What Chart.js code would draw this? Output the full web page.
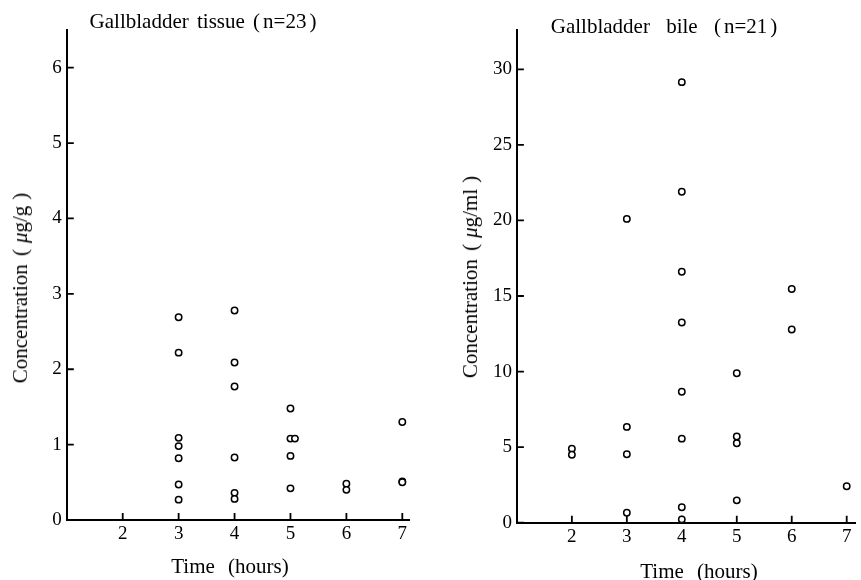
<!DOCTYPE html>
<html lang="en">
<head>
<meta charset="UTF-8">
<title>Gallbladder tissue and bile concentrations</title>
<script src="https://cdn.jsdelivr.net/npm/chart.js"></script>
<style>
  body { margin: 0; background: #fff; }
  #wrap { position: relative; width: 861px; height: 580px; overflow: hidden; }
  canvas { position: absolute; top: 0; }
  .lbl { position: absolute; font: 21px "Liberation Serif", serif; line-height: 24px; color: #000; white-space: pre; }
  .ptitle { transform: translateX(-50%); }
  .xtitle { word-spacing: 8px; transform: translateX(-50%); }
  .ytitle { word-spacing: 3px; transform: translate(-50%, -50%) rotate(-90deg); }
  .ytitle span { margin: 0 6px; }
  .ptitle span { margin: 0 3px; }
</style>
</head>
<body>
<div id="wrap">
  <canvas id="tissueChart" width="430" height="580" style="left:0"></canvas>
  <canvas id="bileChart" width="431" height="580" style="left:430px"></canvas>
  <div class="lbl ptitle" style="left:203px;top:9px;word-spacing:3px">Gallbladder tissue (<span>n=23</span>)</div>
  <div class="lbl ptitle" style="left:664px;top:14px;word-spacing:11px">Gallbladder bile (<span>n=21</span>)</div>
  <div class="lbl xtitle" style="left:230px;top:554px">Time (hours)</div>
  <div class="lbl xtitle" style="left:699px;top:559px">Time (hours)</div>
  <div class="lbl ytitle" style="left:20px;top:288px">Concentration (<span><i>μ</i>g/g</span>)</div>
  <div class="lbl ytitle" style="left:470px;top:277px">Concentration (<span><i>μ</i>g/ml</span>)</div>
</div>
<script>
// tissue, µg/g  (time in hours, one entry per patient)
const tissueTime = [3, 3, 3, 3, 3, 3, 3,
                    4, 4, 4, 4, 4, 4,
                    5, 5, 5.08, 5, 5,
                    6, 6,
                    7, 7, 7];
const tissueConc = [2.69, 2.22, 1.09, 0.98, 0.82, 0.47, 0.27,
                    2.78, 2.09, 1.77, 0.83, 0.36, 0.28,
                    1.48, 1.08, 1.08, 0.85, 0.42,
                    0.48, 0.40,
                    1.30, 0.51, 0.50];

// bile, µg/ml
const bileTime = [2, 2,
                  3, 3, 3, 3,
                  4, 4, 4, 4, 4, 4, 4, 4,
                  5, 5, 5, 5,
                  6, 6,
                  7];
const bileConc = [4.9, 4.5,
                  20.1, 6.34, 4.53, 0.66,
                  29.15, 21.9, 16.6, 13.25, 8.66, 5.56, 1.02, 0.22,
                  9.89, 5.70, 5.26, 1.48,
                  15.46, 12.78,
                  2.41];

Chart.defaults.font.family = '"Liberation Serif", serif';
Chart.defaults.color = '#000';

// short tick marks pointing into the plot
const innerTicks = {
    id: 'innerTicks',
    beforeDatasetsDraw(chart) {
        const {ctx, chartArea: a, scales: {x, y}} = chart;
        ctx.save();
        ctx.strokeStyle = '#000';
        ctx.lineWidth = 1.8;
        ctx.beginPath();
        y.ticks.forEach(t => {
            const py = y.getPixelForValue(t.value);
            ctx.moveTo(a.left, py);
            ctx.lineTo(a.left + 7, py);
        });
        x.ticks.forEach(t => {
            if (t.value === 1) return;
            const px = x.getPixelForValue(t.value);
            ctx.moveTo(px, a.bottom);
            ctx.lineTo(px, a.bottom - 7);
        });
        ctx.stroke();
        ctx.restore();
    }
};

function makeChart(id, xs, ys, o) {
    const pts = xs.map((x, i) => ({x: x, y: ys[i]}));
    return new Chart(document.getElementById(id), {
        type: 'scatter',
        data: {
            datasets: [{
                data: pts,
                pointRadius: 3.2,
                pointBorderWidth: 1.5,
                borderColor: '#000',
                backgroundColor: '#fff'
            }]
        },
        options: {
            responsive: false,
            animation: false,
            layout: { padding: o.pad },
            plugins: { legend: { display: false }, tooltip: { enabled: false } },
            scales: {
                x: {
                    type: 'linear',
                    min: 1,
                    max: o.xMax,
                    afterFit: s => { s.height = o.xH; },
                    grid: { display: false, drawTicks: false },
                    border: { color: '#000', width: 2 },
                    ticks: {
                        stepSize: 1,
                        includeBounds: false,
                        padding: 3,
                        font: { size: 19 },
                        callback: v => v === 1 ? '' : v
                    }
                },
                y: {
                    min: 0,
                    max: o.yMax,
                    afterFit: s => { s.width = o.yW; },
                    grid: { display: false, drawTicks: false },
                    border: { color: '#000', width: 2 },
                    ticks: {
                        stepSize: o.yStep,
                        includeBounds: false,
                        padding: 5,
                        font: { size: 19 }
                    }
                }
            }
        },
        plugins: [innerTicks]
    });
}

makeChart('tissueChart', tissueTime, tissueConc, {
    pad: { left: 0, right: 20.7, top: 30, bottom: 0 },
    xMax: 7.125, xH: 60,
    yMax: 6.5, yStep: 1, yW: 66.8
});

makeChart('bileChart', bileTime, bileConc, {
    pad: { left: 20, right: 0, top: 30, bottom: 0 },
    xMax: 7.16, xH: 57.3,
    yMax: 32.6, yStep: 5, yW: 66.9
});
</script>
</body>
</html>
